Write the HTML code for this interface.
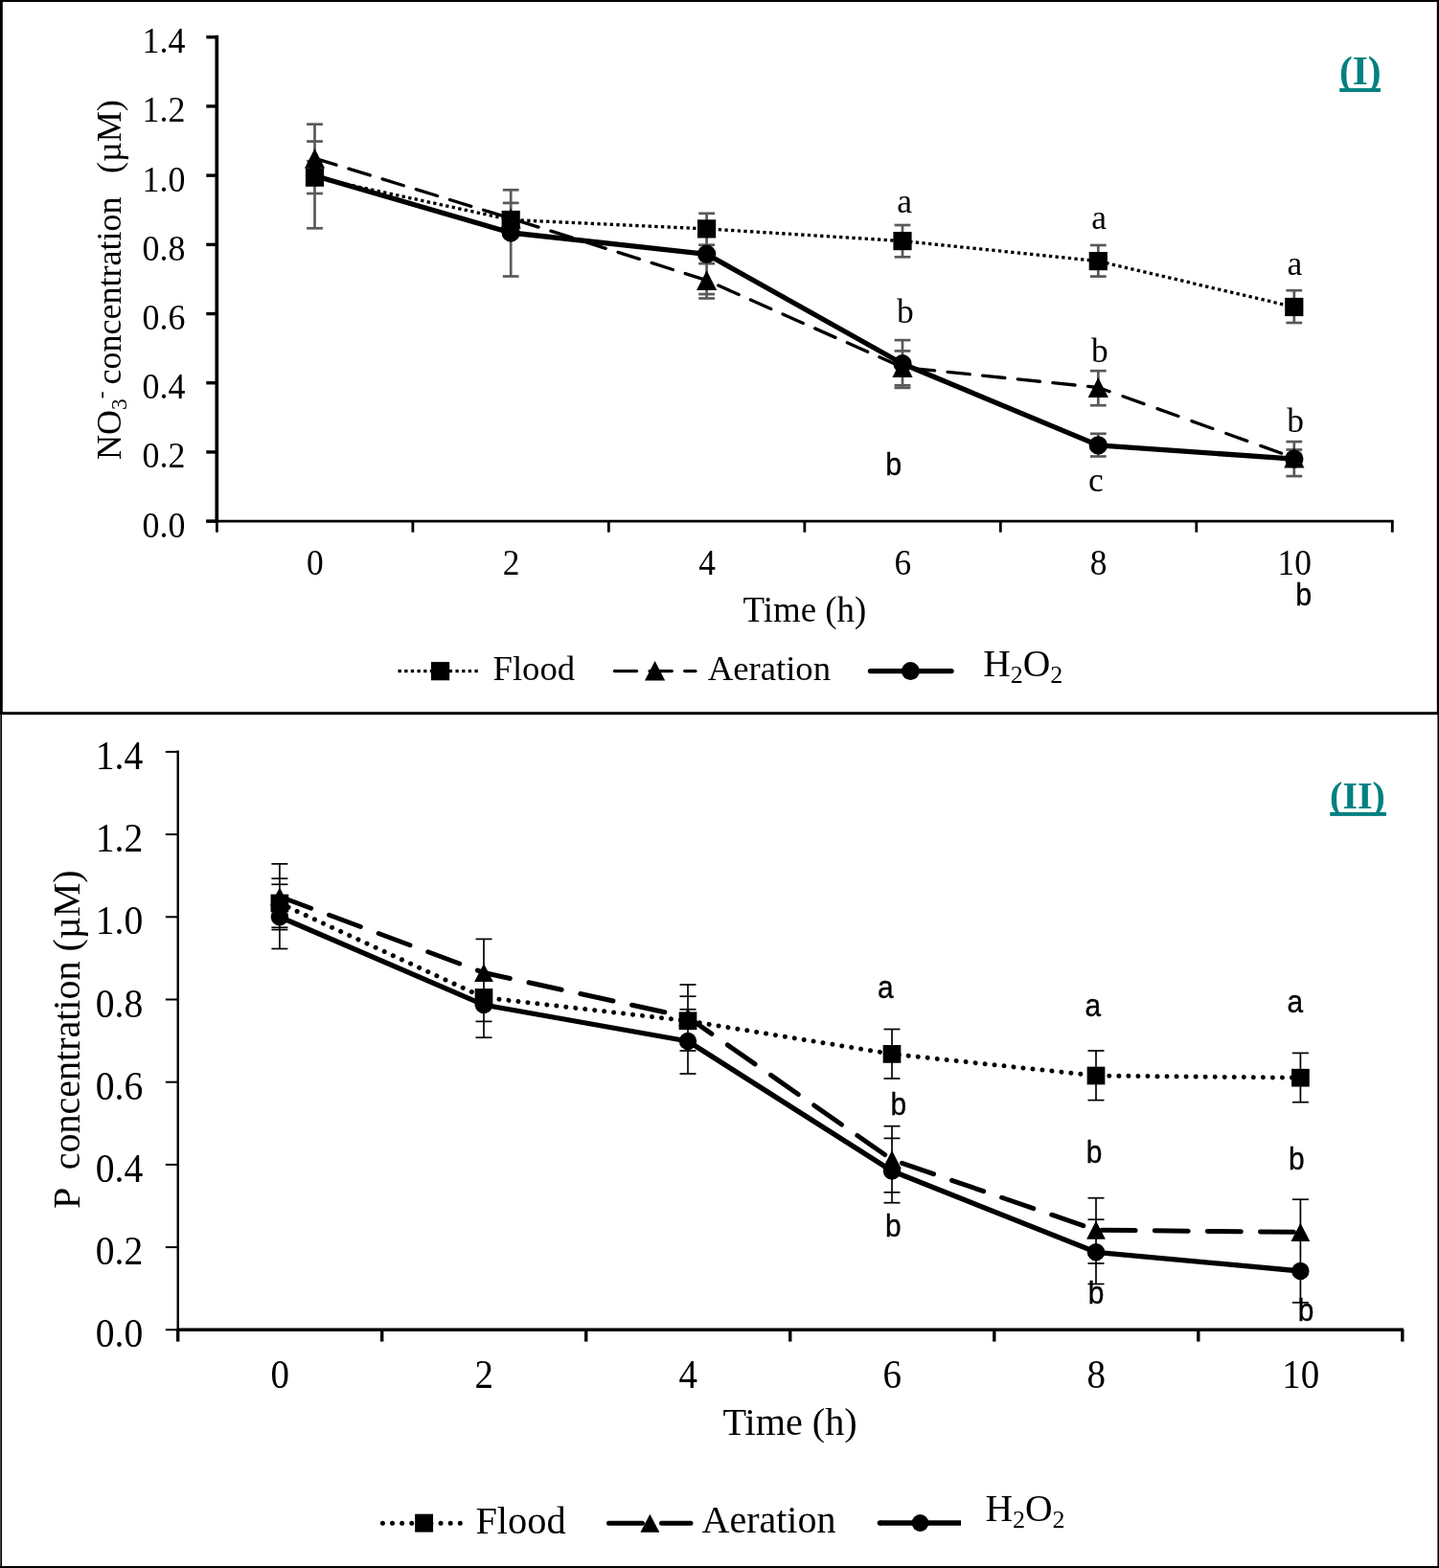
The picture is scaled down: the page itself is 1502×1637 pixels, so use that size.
<!DOCTYPE html>
<html lang="en"><head><meta charset="utf-8"><title>Nutrient concentration over time</title>
<style>
html,body{margin:0;padding:0;background:#fff;}
body{width:1502px;height:1637px;overflow:hidden;}
svg{display:block;}
text{fill:#000;}
</style></head><body>
<svg width="1502" height="1637" viewBox="0 0 1502 1637">
<rect x="0" y="0" width="1502" height="1637" fill="#fff"/>

<g id="frame" fill="#000">
<rect x="0" y="0" width="1502" height="2"/>
<rect x="0" y="0" width="2.8" height="745"/>
<rect x="0" y="745" width="2" height="892"/>
<rect x="0" y="745" width="1" height="892" fill="#4a4a4a"/>
<rect x="1499.8" y="0" width="2.2" height="745"/>
<rect x="1500.4" y="745" width="1.6" height="892"/>
<rect x="0" y="1635" width="1502" height="2"/>
<rect x="0" y="743.2" width="1502" height="3"/>
</g>
<g id="chart1">
<line x1="226.3" y1="36.8" x2="226.3" y2="545.6" stroke="#000" stroke-width="3.7"/>
<line x1="215.3" y1="544.2" x2="1454.6" y2="544.2" stroke="#000" stroke-width="2.7"/>
<line x1="215.3" y1="544.15" x2="226.4" y2="544.15" stroke="#000" stroke-width="3.4"/>
<text transform="translate(193.4,560.50) scale(1,1.045)" font-family='"Liberation Serif", "DejaVu Serif", serif' font-size="35.9" text-anchor="end">0.0</text>
<line x1="215.3" y1="471.95" x2="226.4" y2="471.95" stroke="#000" stroke-width="3.4"/>
<text transform="translate(193.4,488.30) scale(1,1.045)" font-family='"Liberation Serif", "DejaVu Serif", serif' font-size="35.9" text-anchor="end">0.2</text>
<line x1="215.3" y1="399.75" x2="226.4" y2="399.75" stroke="#000" stroke-width="3.4"/>
<text transform="translate(193.4,416.10) scale(1,1.045)" font-family='"Liberation Serif", "DejaVu Serif", serif' font-size="35.9" text-anchor="end">0.4</text>
<line x1="215.3" y1="327.55" x2="226.4" y2="327.55" stroke="#000" stroke-width="3.4"/>
<text transform="translate(193.4,343.90) scale(1,1.045)" font-family='"Liberation Serif", "DejaVu Serif", serif' font-size="35.9" text-anchor="end">0.6</text>
<line x1="215.3" y1="255.35" x2="226.4" y2="255.35" stroke="#000" stroke-width="3.4"/>
<text transform="translate(193.4,271.70) scale(1,1.045)" font-family='"Liberation Serif", "DejaVu Serif", serif' font-size="35.9" text-anchor="end">0.8</text>
<line x1="215.3" y1="183.15" x2="226.4" y2="183.15" stroke="#000" stroke-width="3.4"/>
<text transform="translate(193.4,199.50) scale(1,1.045)" font-family='"Liberation Serif", "DejaVu Serif", serif' font-size="35.9" text-anchor="end">1.0</text>
<line x1="215.3" y1="110.95" x2="226.4" y2="110.95" stroke="#000" stroke-width="3.4"/>
<text transform="translate(193.4,127.30) scale(1,1.045)" font-family='"Liberation Serif", "DejaVu Serif", serif' font-size="35.9" text-anchor="end">1.2</text>
<line x1="215.3" y1="38.75" x2="226.4" y2="38.75" stroke="#000" stroke-width="3.4"/>
<text transform="translate(193.4,55.10) scale(1,1.045)" font-family='"Liberation Serif", "DejaVu Serif", serif' font-size="35.9" text-anchor="end">1.4</text>
<line x1="226.40" y1="544.0" x2="226.40" y2="555.7" stroke="#000" stroke-width="2.8"/>
<line x1="430.88" y1="544.0" x2="430.88" y2="555.7" stroke="#000" stroke-width="2.8"/>
<line x1="635.36" y1="544.0" x2="635.36" y2="555.7" stroke="#000" stroke-width="2.8"/>
<line x1="839.84" y1="544.0" x2="839.84" y2="555.7" stroke="#000" stroke-width="2.8"/>
<line x1="1044.32" y1="544.0" x2="1044.32" y2="555.7" stroke="#000" stroke-width="2.8"/>
<line x1="1248.80" y1="544.0" x2="1248.80" y2="555.7" stroke="#000" stroke-width="2.8"/>
<line x1="1453.28" y1="544.0" x2="1453.28" y2="555.7" stroke="#000" stroke-width="2.8"/>
<text transform="translate(328.90,599.9) scale(1,1.055)" font-family='"Liberation Serif", "DejaVu Serif", serif' font-size="35.4" text-anchor="middle">0</text>
<text transform="translate(533.60,599.9) scale(1,1.055)" font-family='"Liberation Serif", "DejaVu Serif", serif' font-size="35.4" text-anchor="middle">2</text>
<text transform="translate(738.00,599.9) scale(1,1.055)" font-family='"Liberation Serif", "DejaVu Serif", serif' font-size="35.4" text-anchor="middle">4</text>
<text transform="translate(942.40,599.9) scale(1,1.055)" font-family='"Liberation Serif", "DejaVu Serif", serif' font-size="35.4" text-anchor="middle">6</text>
<text transform="translate(1146.70,599.9) scale(1,1.055)" font-family='"Liberation Serif", "DejaVu Serif", serif' font-size="35.4" text-anchor="middle">8</text>
<text transform="translate(1351.20,599.9) scale(1,1.055)" font-family='"Liberation Serif", "DejaVu Serif", serif' font-size="35.4" text-anchor="middle">10</text>
<text x="775.5" y="649.3" font-family='"Liberation Serif", "DejaVu Serif", serif' font-size="36.9" text-anchor="start" >Time (h)</text>
<text transform="translate(126.2,480) rotate(-90)" font-family='"Liberation Serif", "DejaVu Serif", serif' font-size="36" xml:space="preserve">NO<tspan font-size="23.5" dy="5.6">3</tspan><tspan font-size="23.5" dy="-19.2">-</tspan><tspan dy="13.6" dx="-2"> concentration</tspan><tspan dx="6.5">  (µM)</tspan></text>
<text x="1397.9" y="88" font-family='"Liberation Serif", "DejaVu Serif", serif' font-size="41.4" font-weight="bold" style="fill:#008080">(I)</text>
<rect x="1396" y="96" width="48" height="6" fill="#fff"/>
<rect x="1398.2" y="92.1" width="42.8" height="3.9" fill="#008080"/>
<g id="err1">
<line x1="328.5" y1="129.7" x2="328.5" y2="238.3" stroke="#595959" stroke-width="2.7"/><line x1="320.10" y1="129.7" x2="336.90" y2="129.7" stroke="#595959" stroke-width="2.7"/><line x1="320.10" y1="147.6" x2="336.90" y2="147.6" stroke="#595959" stroke-width="2.7"/><line x1="320.10" y1="168.2" x2="336.90" y2="168.2" stroke="#595959" stroke-width="2.7"/><line x1="320.10" y1="202" x2="336.90" y2="202" stroke="#595959" stroke-width="2.7"/><line x1="320.10" y1="238.3" x2="336.90" y2="238.3" stroke="#595959" stroke-width="2.7"/>
<line x1="533.2" y1="198.3" x2="533.2" y2="288.5" stroke="#595959" stroke-width="2.7"/><line x1="524.80" y1="198.3" x2="541.60" y2="198.3" stroke="#595959" stroke-width="2.7"/><line x1="524.80" y1="211.9" x2="541.60" y2="211.9" stroke="#595959" stroke-width="2.7"/><line x1="524.80" y1="288.5" x2="541.60" y2="288.5" stroke="#595959" stroke-width="2.7"/>
<line x1="737.6" y1="222.8" x2="737.6" y2="311.5" stroke="#595959" stroke-width="2.7"/><line x1="729.20" y1="222.8" x2="746.00" y2="222.8" stroke="#595959" stroke-width="2.7"/><line x1="729.20" y1="255.7" x2="746.00" y2="255.7" stroke="#595959" stroke-width="2.7"/><line x1="729.20" y1="275.2" x2="746.00" y2="275.2" stroke="#595959" stroke-width="2.7"/><line x1="729.20" y1="307.1" x2="746.00" y2="307.1" stroke="#595959" stroke-width="2.7"/><line x1="729.20" y1="311.5" x2="746.00" y2="311.5" stroke="#595959" stroke-width="2.7"/>
<line x1="942.0" y1="235" x2="942.0" y2="268.3" stroke="#595959" stroke-width="2.7"/><line x1="933.60" y1="235" x2="950.40" y2="235" stroke="#595959" stroke-width="2.7"/><line x1="933.60" y1="268.3" x2="950.40" y2="268.3" stroke="#595959" stroke-width="2.7"/>
<line x1="942.0" y1="355.1" x2="942.0" y2="404.9" stroke="#595959" stroke-width="2.7"/><line x1="933.60" y1="355.1" x2="950.40" y2="355.1" stroke="#595959" stroke-width="2.7"/><line x1="933.60" y1="366.4" x2="950.40" y2="366.4" stroke="#595959" stroke-width="2.7"/><line x1="933.60" y1="402.3" x2="950.40" y2="402.3" stroke="#595959" stroke-width="2.7"/><line x1="933.60" y1="404.9" x2="950.40" y2="404.9" stroke="#595959" stroke-width="2.7"/>
<line x1="1146.3" y1="256" x2="1146.3" y2="288.6" stroke="#595959" stroke-width="2.7"/><line x1="1137.90" y1="256" x2="1154.70" y2="256" stroke="#595959" stroke-width="2.7"/><line x1="1137.90" y1="288.6" x2="1154.70" y2="288.6" stroke="#595959" stroke-width="2.7"/>
<line x1="1146.3" y1="387.2" x2="1146.3" y2="423.2" stroke="#595959" stroke-width="2.7"/><line x1="1137.90" y1="387.2" x2="1154.70" y2="387.2" stroke="#595959" stroke-width="2.7"/><line x1="1137.90" y1="423.2" x2="1154.70" y2="423.2" stroke="#595959" stroke-width="2.7"/>
<line x1="1146.3" y1="452.8" x2="1146.3" y2="476.5" stroke="#595959" stroke-width="2.7"/><line x1="1137.90" y1="452.8" x2="1154.70" y2="452.8" stroke="#595959" stroke-width="2.7"/><line x1="1137.90" y1="476.5" x2="1154.70" y2="476.5" stroke="#595959" stroke-width="2.7"/>
<line x1="1350.8" y1="303.2" x2="1350.8" y2="337" stroke="#595959" stroke-width="2.7"/><line x1="1342.40" y1="303.2" x2="1359.20" y2="303.2" stroke="#595959" stroke-width="2.7"/><line x1="1342.40" y1="337" x2="1359.20" y2="337" stroke="#595959" stroke-width="2.7"/>
<line x1="1350.8" y1="461.1" x2="1350.8" y2="497.1" stroke="#595959" stroke-width="2.7"/><line x1="1342.40" y1="461.1" x2="1359.20" y2="461.1" stroke="#595959" stroke-width="2.7"/><line x1="1342.40" y1="469.5" x2="1359.20" y2="469.5" stroke="#595959" stroke-width="2.7"/><line x1="1342.40" y1="497.1" x2="1359.20" y2="497.1" stroke="#595959" stroke-width="2.7"/>
</g>
<polyline points="328.5,185.2 533.2,229.5 737.6,238.9 942.0,251.6 1146.3,272.6 1350.8,320.5" fill="none" stroke="#000" stroke-width="3.33" stroke-linecap="butt" stroke-linejoin="round" stroke-dasharray="3.33 3.33"/>
<polyline points="328.5,165.3 533.2,228.0 737.6,292.6 942.0,383.5 1146.3,404.5" fill="none" stroke="#000" stroke-width="3.33" stroke-linecap="round" stroke-linejoin="round" stroke-dasharray="23.3 13.5" stroke-dashoffset="-0.22"/>
<polyline points="1146.3,404.5 1350.8,478.0" fill="none" stroke="#000" stroke-width="3.33" stroke-linecap="round" stroke-linejoin="round" stroke-dasharray="23.3 14.85" stroke-dashoffset="10.75"/>
<polyline points="328.5,183.5 533.2,243.0 737.6,265.3 942.0,379.8 1146.3,464.9 1350.8,479.1" fill="none" stroke="#000" stroke-width="5.3" stroke-linecap="round" stroke-linejoin="round"/>
<rect x="318.90" y="175.60" width="19.2" height="19.2" fill="#000"/>
<rect x="523.60" y="219.90" width="19.2" height="19.2" fill="#000"/>
<rect x="728.00" y="229.30" width="19.2" height="19.2" fill="#000"/>
<rect x="932.40" y="242.00" width="19.2" height="19.2" fill="#000"/>
<rect x="1136.70" y="263.00" width="19.2" height="19.2" fill="#000"/>
<rect x="1341.20" y="310.90" width="19.2" height="19.2" fill="#000"/>
<polygon points="328.50,154.90 339.10,175.70 317.90,175.70" fill="#000"/>
<polygon points="533.20,217.60 543.80,238.40 522.60,238.40" fill="#000"/>
<polygon points="737.60,282.20 748.20,303.00 727.00,303.00" fill="#000"/>
<polygon points="942.00,373.10 952.60,393.90 931.40,393.90" fill="#000"/>
<polygon points="1146.30,394.10 1156.90,414.90 1135.70,414.90" fill="#000"/>
<polygon points="1350.80,467.60 1361.40,488.40 1340.20,488.40" fill="#000"/>
<circle cx="328.5" cy="183.5" r="9.7" fill="#000"/>
<circle cx="533.2" cy="243.0" r="9.7" fill="#000"/>
<circle cx="737.6" cy="265.3" r="9.7" fill="#000"/>
<circle cx="942.0" cy="379.8" r="9.7" fill="#000"/>
<circle cx="1146.3" cy="464.9" r="9.7" fill="#000"/>
<circle cx="1350.8" cy="479.1" r="9.7" fill="#000"/>
<text x="944.2" y="222.0" font-family='"Liberation Serif", "DejaVu Serif", serif' font-size="35.5" text-anchor="middle" >a</text>
<text x="1147.2" y="238.6" font-family='"Liberation Serif", "DejaVu Serif", serif' font-size="35.5" text-anchor="middle" >a</text>
<text x="1351.3" y="287.1" font-family='"Liberation Serif", "DejaVu Serif", serif' font-size="35.5" text-anchor="middle" >a</text>
<text x="944.8" y="337.3" font-family='"Liberation Serif", "DejaVu Serif", serif' font-size="35.5" text-anchor="middle" >b</text>
<text x="1147.8" y="377.6" font-family='"Liberation Serif", "DejaVu Serif", serif' font-size="35.5" text-anchor="middle" >b</text>
<text x="1352.0" y="450.7" font-family='"Liberation Serif", "DejaVu Serif", serif' font-size="35.5" text-anchor="middle" >b</text>
<text x="1144.0" y="513.2" font-family='"Liberation Serif", "DejaVu Serif", serif' font-size="35.5" text-anchor="middle" >c</text>
<text transform="translate(932.8,495.9) scale(0.9,1)" font-family='"Liberation Sans", "DejaVu Sans", sans-serif' font-size="33.8" text-anchor="middle" stroke="#000" stroke-width="0.35">b</text>
<text transform="translate(1360.8,631.6) scale(0.9,1)" font-family='"Liberation Sans", "DejaVu Sans", sans-serif' font-size="33.8" text-anchor="middle" stroke="#000" stroke-width="0.35">b</text>
<line x1="415.5" y1="700.6" x2="500" y2="700.6" stroke="#000" stroke-width="3.33" stroke-dasharray="3.33 3.33"/>
<rect x="450.00" y="691.10" width="19.2" height="19.2" fill="#000"/>
<text x="514.5" y="709.7" font-family='"Liberation Serif", "DejaVu Serif", serif' font-size="36.7" text-anchor="start" >Flood</text>
<line x1="641.4" y1="700.6" x2="726" y2="700.6" stroke="#000" stroke-width="3.33" stroke-dasharray="23.3 13.33" stroke-linecap="round"/>
<polygon points="683.60,690.10 694.20,710.50 673.00,710.50" fill="#000"/>
<text x="738.7" y="709.7" font-family='"Liberation Serif", "DejaVu Serif", serif' font-size="36.7" text-anchor="start" >Aeration</text>
<line x1="908.5" y1="700.6" x2="993" y2="700.6" stroke="#000" stroke-width="5.4" stroke-linecap="round"/>
<circle cx="950.4" cy="700.6" r="9.5" fill="#000"/>
<text x="1026.3" y="706" font-family='"Liberation Serif", "DejaVu Serif", serif' font-size="39.5">H<tspan font-size="26" dy="7.3">2</tspan><tspan dy="-7.3">O</tspan><tspan font-size="26" dy="7.3">2</tspan></text>
</g>
<g id="chart2">
<line x1="185.7" y1="783.4" x2="185.7" y2="1389.5" stroke="#000" stroke-width="2.4"/>
<line x1="184.5" y1="1388.2" x2="1465.0" y2="1388.2" stroke="#000" stroke-width="3.6"/>
<line x1="172.8" y1="1388.30" x2="185.4" y2="1388.30" stroke="#000" stroke-width="2"/>
<text transform="translate(149.2,1406.30) scale(1,1.06)" font-family='"Liberation Serif", "DejaVu Serif", serif' font-size="39.6" text-anchor="end">0.0</text>
<line x1="172.8" y1="1302.10" x2="185.4" y2="1302.10" stroke="#000" stroke-width="2"/>
<text transform="translate(149.2,1320.10) scale(1,1.06)" font-family='"Liberation Serif", "DejaVu Serif", serif' font-size="39.6" text-anchor="end">0.2</text>
<line x1="172.8" y1="1215.90" x2="185.4" y2="1215.90" stroke="#000" stroke-width="2"/>
<text transform="translate(149.2,1233.90) scale(1,1.06)" font-family='"Liberation Serif", "DejaVu Serif", serif' font-size="39.6" text-anchor="end">0.4</text>
<line x1="172.8" y1="1129.70" x2="185.4" y2="1129.70" stroke="#000" stroke-width="2"/>
<text transform="translate(149.2,1147.70) scale(1,1.06)" font-family='"Liberation Serif", "DejaVu Serif", serif' font-size="39.6" text-anchor="end">0.6</text>
<line x1="172.8" y1="1043.50" x2="185.4" y2="1043.50" stroke="#000" stroke-width="2"/>
<text transform="translate(149.2,1061.50) scale(1,1.06)" font-family='"Liberation Serif", "DejaVu Serif", serif' font-size="39.6" text-anchor="end">0.8</text>
<line x1="172.8" y1="957.30" x2="185.4" y2="957.30" stroke="#000" stroke-width="2"/>
<text transform="translate(149.2,975.30) scale(1,1.06)" font-family='"Liberation Serif", "DejaVu Serif", serif' font-size="39.6" text-anchor="end">1.0</text>
<line x1="172.8" y1="871.10" x2="185.4" y2="871.10" stroke="#000" stroke-width="2"/>
<text transform="translate(149.2,889.10) scale(1,1.06)" font-family='"Liberation Serif", "DejaVu Serif", serif' font-size="39.6" text-anchor="end">1.2</text>
<line x1="172.8" y1="784.90" x2="185.4" y2="784.90" stroke="#000" stroke-width="2"/>
<text transform="translate(149.2,802.90) scale(1,1.06)" font-family='"Liberation Serif", "DejaVu Serif", serif' font-size="39.6" text-anchor="end">1.4</text>
<line x1="185.70" y1="1388.0" x2="185.70" y2="1400.6" stroke="#000" stroke-width="3.4"/>
<line x1="398.72" y1="1388.0" x2="398.72" y2="1400.6" stroke="#000" stroke-width="3.4"/>
<line x1="611.74" y1="1388.0" x2="611.74" y2="1400.6" stroke="#000" stroke-width="3.4"/>
<line x1="824.76" y1="1388.0" x2="824.76" y2="1400.6" stroke="#000" stroke-width="3.4"/>
<line x1="1037.78" y1="1388.0" x2="1037.78" y2="1400.6" stroke="#000" stroke-width="3.4"/>
<line x1="1250.80" y1="1388.0" x2="1250.80" y2="1400.6" stroke="#000" stroke-width="3.4"/>
<line x1="1463.82" y1="1388.0" x2="1463.82" y2="1400.6" stroke="#000" stroke-width="3.4"/>
<text transform="translate(292.20,1448.9) scale(1,1.055)" font-family='"Liberation Serif", "DejaVu Serif", serif' font-size="39" text-anchor="middle">0</text>
<text transform="translate(505.30,1448.9) scale(1,1.055)" font-family='"Liberation Serif", "DejaVu Serif", serif' font-size="39" text-anchor="middle">2</text>
<text transform="translate(718.30,1448.9) scale(1,1.055)" font-family='"Liberation Serif", "DejaVu Serif", serif' font-size="39" text-anchor="middle">4</text>
<text transform="translate(931.30,1448.9) scale(1,1.055)" font-family='"Liberation Serif", "DejaVu Serif", serif' font-size="39" text-anchor="middle">6</text>
<text transform="translate(1144.30,1448.9) scale(1,1.055)" font-family='"Liberation Serif", "DejaVu Serif", serif' font-size="39" text-anchor="middle">8</text>
<text transform="translate(1357.70,1448.9) scale(1,1.055)" font-family='"Liberation Serif", "DejaVu Serif", serif' font-size="39" text-anchor="middle">10</text>
<text x="754.4" y="1497.8" font-family='"Liberation Serif", "DejaVu Serif", serif' font-size="40.2" text-anchor="start" >Time (h)</text>
<text transform="translate(83.3,1262) rotate(-90)" font-family='"Liberation Serif", "DejaVu Serif", serif' font-size="40" xml:space="preserve">P  concentration (µM)</text>
<text x="1388.1" y="843.8" font-family='"Liberation Serif", "DejaVu Serif", serif' font-size="39.9" font-weight="bold" style="fill:#008080">(II)</text>
<rect x="1386" y="851.9" width="64" height="6" fill="#fff"/>
<rect x="1388.2" y="847.9" width="58.7" height="4" fill="#008080"/>
<g id="err2">
<line x1="291.9" y1="901.9" x2="291.9" y2="990.5" stroke="#000" stroke-width="1.7"/><line x1="283.40" y1="901.9" x2="300.40" y2="901.9" stroke="#000" stroke-width="1.7"/><line x1="283.40" y1="917.2" x2="300.40" y2="917.2" stroke="#000" stroke-width="1.7"/><line x1="283.40" y1="923.3" x2="300.40" y2="923.3" stroke="#000" stroke-width="1.7"/><line x1="283.40" y1="968.3" x2="300.40" y2="968.3" stroke="#000" stroke-width="1.7"/><line x1="283.40" y1="970.6" x2="300.40" y2="970.6" stroke="#000" stroke-width="1.7"/><line x1="283.40" y1="990.5" x2="300.40" y2="990.5" stroke="#000" stroke-width="1.7"/>
<line x1="505.0" y1="980.4" x2="505.0" y2="1083.2" stroke="#000" stroke-width="1.7"/><line x1="496.50" y1="980.4" x2="513.50" y2="980.4" stroke="#000" stroke-width="1.7"/><line x1="496.50" y1="1066.4" x2="513.50" y2="1066.4" stroke="#000" stroke-width="1.7"/><line x1="496.50" y1="1083.2" x2="513.50" y2="1083.2" stroke="#000" stroke-width="1.7"/>
<line x1="718.0" y1="1028" x2="718.0" y2="1121" stroke="#000" stroke-width="1.7"/><line x1="709.50" y1="1028" x2="726.50" y2="1028" stroke="#000" stroke-width="1.7"/><line x1="709.50" y1="1040.2" x2="726.50" y2="1040.2" stroke="#000" stroke-width="1.7"/><line x1="709.50" y1="1053.8" x2="726.50" y2="1053.8" stroke="#000" stroke-width="1.7"/><line x1="709.50" y1="1097" x2="726.50" y2="1097" stroke="#000" stroke-width="1.7"/><line x1="709.50" y1="1121" x2="726.50" y2="1121" stroke="#000" stroke-width="1.7"/>
<line x1="931.0" y1="1074.5" x2="931.0" y2="1126" stroke="#000" stroke-width="1.7"/><line x1="922.50" y1="1074.5" x2="939.50" y2="1074.5" stroke="#000" stroke-width="1.7"/><line x1="922.50" y1="1126" x2="939.50" y2="1126" stroke="#000" stroke-width="1.7"/>
<line x1="931.0" y1="1175.7" x2="931.0" y2="1255.7" stroke="#000" stroke-width="1.7"/><line x1="922.50" y1="1175.7" x2="939.50" y2="1175.7" stroke="#000" stroke-width="1.7"/><line x1="922.50" y1="1188.4" x2="939.50" y2="1188.4" stroke="#000" stroke-width="1.7"/><line x1="922.50" y1="1244.8" x2="939.50" y2="1244.8" stroke="#000" stroke-width="1.7"/><line x1="922.50" y1="1255.7" x2="939.50" y2="1255.7" stroke="#000" stroke-width="1.7"/>
<line x1="1144.0" y1="1097" x2="1144.0" y2="1148.6" stroke="#000" stroke-width="1.7"/><line x1="1135.50" y1="1097" x2="1152.50" y2="1097" stroke="#000" stroke-width="1.7"/><line x1="1135.50" y1="1148.6" x2="1152.50" y2="1148.6" stroke="#000" stroke-width="1.7"/>
<line x1="1144.0" y1="1250.7" x2="1144.0" y2="1340.5" stroke="#000" stroke-width="1.7"/><line x1="1135.50" y1="1250.7" x2="1152.50" y2="1250.7" stroke="#000" stroke-width="1.7"/><line x1="1135.50" y1="1273.2" x2="1152.50" y2="1273.2" stroke="#000" stroke-width="1.7"/><line x1="1135.50" y1="1319" x2="1152.50" y2="1319" stroke="#000" stroke-width="1.7"/><line x1="1135.50" y1="1340.5" x2="1152.50" y2="1340.5" stroke="#000" stroke-width="1.7"/>
<line x1="1357.4" y1="1099.4" x2="1357.4" y2="1150.7" stroke="#000" stroke-width="1.7"/><line x1="1348.90" y1="1099.4" x2="1365.90" y2="1099.4" stroke="#000" stroke-width="1.7"/><line x1="1348.90" y1="1150.7" x2="1365.90" y2="1150.7" stroke="#000" stroke-width="1.7"/>
<line x1="1357.4" y1="1252.2" x2="1357.4" y2="1359.9" stroke="#000" stroke-width="1.7"/><line x1="1348.90" y1="1252.2" x2="1365.90" y2="1252.2" stroke="#000" stroke-width="1.7"/><line x1="1348.90" y1="1359.9" x2="1365.90" y2="1359.9" stroke="#000" stroke-width="1.7"/>
</g>
<polyline points="291.9,943.0 505.0,1041.4 718.0,1065.8 931.0,1100.4 1144.0,1123.0 1357.4,1125.2" fill="none" stroke="#000" stroke-width="5" stroke-linecap="round" stroke-linejoin="round" stroke-dasharray="0.01 10.023"/>
<polyline points="291.9,936.0 505.0,1015.5 718.0,1062.0 931.0,1210.7 1144.0,1284.2 1357.4,1286.4" fill="none" stroke="#000" stroke-width="5" stroke-linecap="round" stroke-linejoin="round" stroke-dasharray="35 20.1"/>
<polyline points="291.9,957.2 505.0,1049.1 718.0,1087.0 931.0,1222.5 1144.0,1307.3 1357.4,1327.0" fill="none" stroke="#000" stroke-width="5.3" stroke-linecap="round" stroke-linejoin="round"/>
<rect x="282.55" y="933.65" width="18.7" height="18.7" fill="#000"/>
<rect x="495.65" y="1032.05" width="18.7" height="18.7" fill="#000"/>
<rect x="708.65" y="1056.45" width="18.7" height="18.7" fill="#000"/>
<rect x="921.65" y="1091.05" width="18.7" height="18.7" fill="#000"/>
<rect x="1134.65" y="1113.65" width="18.7" height="18.7" fill="#000"/>
<rect x="1348.05" y="1115.85" width="18.7" height="18.7" fill="#000"/>
<polygon points="291.90,926.40 301.80,945.60 282.00,945.60" fill="#000"/>
<polygon points="505.00,1005.90 514.90,1025.10 495.10,1025.10" fill="#000"/>
<polygon points="718.00,1052.40 727.90,1071.60 708.10,1071.60" fill="#000"/>
<polygon points="931.00,1201.10 940.90,1220.30 921.10,1220.30" fill="#000"/>
<polygon points="1144.00,1274.60 1153.90,1293.80 1134.10,1293.80" fill="#000"/>
<polygon points="1357.40,1276.80 1367.30,1296.00 1347.50,1296.00" fill="#000"/>
<circle cx="291.9" cy="957.2" r="9.2" fill="#000"/>
<circle cx="505.0" cy="1049.1" r="9.2" fill="#000"/>
<circle cx="718.0" cy="1087.0" r="9.2" fill="#000"/>
<circle cx="931.0" cy="1222.5" r="9.2" fill="#000"/>
<circle cx="1144.0" cy="1307.3" r="9.2" fill="#000"/>
<circle cx="1357.4" cy="1327.0" r="9.2" fill="#000"/>
<text transform="translate(924.4,1041.8) scale(0.9,1)" font-family='"Liberation Sans", "DejaVu Sans", sans-serif' font-size="33.2" text-anchor="middle" stroke="#000" stroke-width="0.35">a</text>
<text transform="translate(1140.8,1060.5) scale(0.9,1)" font-family='"Liberation Sans", "DejaVu Sans", sans-serif' font-size="33.2" text-anchor="middle" stroke="#000" stroke-width="0.35">a</text>
<text transform="translate(1351.9,1057.4) scale(0.9,1)" font-family='"Liberation Sans", "DejaVu Sans", sans-serif' font-size="33.2" text-anchor="middle" stroke="#000" stroke-width="0.35">a</text>
<text transform="translate(937.7,1163.8) scale(0.9,1)" font-family='"Liberation Sans", "DejaVu Sans", sans-serif' font-size="33.2" text-anchor="middle" stroke="#000" stroke-width="0.35">b</text>
<text transform="translate(932.4,1291) scale(0.9,1)" font-family='"Liberation Sans", "DejaVu Sans", sans-serif' font-size="33.2" text-anchor="middle" stroke="#000" stroke-width="0.35">b</text>
<text transform="translate(1142,1214.4) scale(0.9,1)" font-family='"Liberation Sans", "DejaVu Sans", sans-serif' font-size="33.2" text-anchor="middle" stroke="#000" stroke-width="0.35">b</text>
<text transform="translate(1144.1,1360.5) scale(0.9,1)" font-family='"Liberation Sans", "DejaVu Sans", sans-serif' font-size="33.2" text-anchor="middle" stroke="#000" stroke-width="0.35">b</text>
<text transform="translate(1353.3,1220.6) scale(0.9,1)" font-family='"Liberation Sans", "DejaVu Sans", sans-serif' font-size="33.2" text-anchor="middle" stroke="#000" stroke-width="0.35">b</text>
<text transform="translate(1363.0,1379.2) scale(0.9,1)" font-family='"Liberation Sans", "DejaVu Sans", sans-serif' font-size="33.2" text-anchor="middle" stroke="#000" stroke-width="0.35">b</text>
<line x1="399.4" y1="1590.3" x2="482" y2="1590.3" stroke="#000" stroke-width="5" stroke-dasharray="0.01 10.1" stroke-linecap="round"/>
<rect x="433.15" y="1580.65" width="18.9" height="18.9" fill="#000"/>
<text x="496.4" y="1600.6" font-family='"Liberation Serif", "DejaVu Serif", serif' font-size="40.4" text-anchor="start" >Flood</text>
<line x1="635.5" y1="1590.3" x2="721" y2="1590.3" stroke="#000" stroke-width="5" stroke-dasharray="35 20" stroke-linecap="round"/>
<polygon points="678.40,1580.70 688.40,1599.70 668.40,1599.70" fill="#000"/>
<text x="732.5" y="1600.2" font-family='"Liberation Serif", "DejaVu Serif", serif' font-size="40" text-anchor="start" >Aeration</text>
<line x1="918.5" y1="1590.0" x2="1003" y2="1590.0" stroke="#000" stroke-width="5.6"/>
<circle cx="918.5" cy="1590.0" r="2.8" fill="#000"/>
<circle cx="960.5" cy="1590.0" r="8.9" fill="#000"/>
<text x="1028.4" y="1587.7" font-family='"Liberation Serif", "DejaVu Serif", serif' font-size="39.5">H<tspan font-size="26" dy="7.3">2</tspan><tspan dy="-7.3">O</tspan><tspan font-size="26" dy="7.3">2</tspan></text>
</g>
</svg>
</body></html>
